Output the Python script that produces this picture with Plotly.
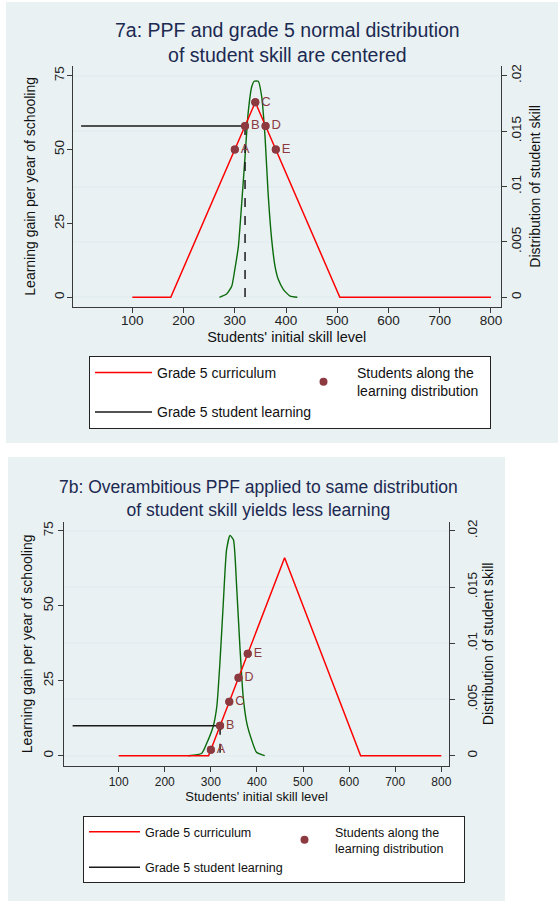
import plotly.graph_objects as go

W, H = 558, 901

# ---------------- data ----------------
skill_ticks = [100, 200, 300, 400, 500, 600, 700, 800]
gain_ticks = [0, 25, 50, 75]
dist_ticks = [0, 0.005, 0.01, 0.015, 0.02]
dist_ticktext = ["0", ".005", ".01", ".015", ".02"]
pt_labels = ["A", "B", "C", "D", "E"]

# Panel 7a
a_ppf_x = [100, 175, 340, 505, 800]
a_ppf_y = [0, 0, 66, 0, 0]
a_pts_x = [300, 320, 340, 360, 380]
a_pts_y = [50, 58, 66, 58, 50]
a_learn_x = [0, 320]
a_learn_y = [58, 58]
a_drop_x = [320, 320]
a_drop_y = [58, 0]
a_dens_x = [270, 284, 294, 300, 307, 313.5, 320, 326, 333, 338, 346, 352.5,
            359, 365, 372, 378.5, 385, 395, 408, 422]
a_dens_y = [0, 0.0003, 0.001, 0.0025, 0.0046, 0.0085, 0.0127, 0.0166, 0.019,
            0.0195, 0.0195, 0.0181, 0.0145, 0.0094, 0.0052, 0.0028, 0.0016,
            0.0007, 0.0001, 0.0]

# Panel 7b
b_ppf_x = [100, 295, 460, 625, 800]
b_ppf_y = [0, 0, 66, 0, 0]
b_pts_x = [300, 320, 340, 360, 380]
b_pts_y = [2, 10, 18, 26, 34]
b_learn_x = [0, 320]
b_learn_y = [10, 10]
b_drop_x = [320, 320]
b_drop_y = [10, 0]
b_dens_x = [251, 280, 291, 305, 313, 320, 327, 334, 341.5, 349, 356, 363,
            370, 378, 388.5, 399, 417]
b_dens_y = [0, 0.0002, 0.0011, 0.0026, 0.0044, 0.0085, 0.0136, 0.0183,
            0.0196, 0.0192, 0.015, 0.0097, 0.0053, 0.0029, 0.0014, 0.0003, 0]

# ---------------- style ----------------
RED = "#ff0000"
GREEN = "#0b6b0b"
MAROON = "#8c3a40"
BLACK = "#1a1a1a"
PANEL = "#e9f1f3"
GRID = "#e4eef0"
AX = "#3a3a3a"
TITLE = "#1c2951"
FONT = "Liberation Sans, Arial, sans-serif"


def px(x):
    return x / W


def py(y):
    return 1 - y / H


fig = go.Figure()


def add_panel(xa, ydist, ygain, ppf_x, ppf_y, pts_x, pts_y, learn_x, learn_y,
              drop_x, drop_y, dens_x, dens_y, legend, tsize):
    fig.add_trace(go.Scatter(x=dens_x, y=dens_y, xaxis=xa, yaxis=ydist,
                             mode="lines", line=dict(color=GREEN, width=1.4,
                                                     shape="spline", smoothing=0.5),
                             showlegend=False, hoverinfo="skip"))
    fig.add_trace(go.Scatter(x=ppf_x, y=ppf_y, xaxis=xa, yaxis=ygain,
                             mode="lines", line=dict(color=RED, width=1.5),
                             name="Grade 5 curriculum", legend=legend))
    fig.add_trace(go.Scatter(x=pts_x, y=pts_y, xaxis=xa, yaxis=ygain,
                             mode="markers", marker=dict(color=MAROON, size=8),
                             name="Students along the<br>learning distribution",
                             legend=legend))
    fig.add_trace(go.Scatter(x=learn_x, y=learn_y, xaxis=xa, yaxis=ygain,
                             mode="lines", line=dict(color=BLACK, width=1.5),
                             name="Grade 5 student learning", legend=legend))
    fig.add_trace(go.Scatter(x=drop_x, y=drop_y, xaxis=xa, yaxis=ygain,
                             mode="lines", line=dict(color=BLACK, width=1.5, dash="dash"),
                             showlegend=False))
    fig.add_trace(go.Scatter(x=pts_x, y=pts_y, xaxis=xa, yaxis=ygain,
                             mode="markers+text", marker=dict(color=MAROON, size=8),
                             text=pt_labels, textposition="middle right",
                             textfont=dict(color=MAROON, size=tsize, family=FONT),
                             showlegend=False, hoverinfo="skip"))


add_panel("x", "y", "y2", a_ppf_x, a_ppf_y, a_pts_x, a_pts_y, a_learn_x, a_learn_y,
          a_drop_x, a_drop_y, a_dens_x, a_dens_y, "legend", 13)
add_panel("x2", "y3", "y4", b_ppf_x, b_ppf_y, b_pts_x, b_pts_y, b_learn_x, b_learn_y,
          b_drop_x, b_drop_y, b_dens_x, b_dens_y, "legend2", 12.5)

axis_common = dict(showline=True, linecolor=AX, linewidth=1, ticks="outside",
                   ticklen=5, tickcolor=AX, zeroline=False)


def tf(size):
    return dict(family=FONT, color="#222", size=size)


def ttl(text, size, standoff):
    return dict(text=text, font=dict(size=size, family=FONT, color="#111"),
                standoff=standoff)


# panel geometry (pixels)
A = dict(l=72.7, r=500.7, t=66, b=306.7)
B = dict(l=64.3, r=449, t=521.7, b=766)

a_yr = [-3.18, 78.28]
b_yr = [-3.44, 78.05]

fig.update_layout(
    width=W, height=H,
    margin=dict(l=0, r=0, t=0, b=0, autoexpand=False),
    paper_bgcolor="white", plot_bgcolor="white",
    font=dict(family=FONT, color="#111"),
    showlegend=True,
    xaxis=dict(domain=[px(A["l"]), px(A["r"])], anchor="y", range=[-16.4, 819],
               tickvals=skill_ticks, showgrid=False, tickfont=tf(13.5),
               ticklabelstandoff=-4,
               title=ttl("Students' initial skill level", 14.5, 4), **axis_common),
    yaxis=dict(domain=[py(A["b"]), py(A["t"])], anchor="x", side="right",
               range=[a_yr[0] / 3750, a_yr[1] / 3750],
               tickvals=dist_ticks, ticktext=dist_ticktext, tickangle=-90,
               showgrid=True, gridcolor=GRID, gridwidth=1.5, tickfont=tf(13.5),
               ticklabelstandoff=-2,
               title=ttl("Distribution of student skill", 14, 7), **axis_common),
    yaxis2=dict(domain=[py(A["b"]), py(A["t"])], anchor="x", side="left",
                overlaying="y", range=a_yr, tickvals=gain_ticks, tickangle=-90,
                showgrid=False, tickfont=tf(13.5), ticklabelstandoff=-3,
                title=ttl("Learning gain per year of schooling", 14, 13), **axis_common),
    xaxis2=dict(domain=[px(B["l"]), px(B["r"])], anchor="y3", range=[-18.0, 816.7],
                tickvals=skill_ticks, showgrid=False, tickfont=tf(12),
                title=ttl("Students' initial skill level", 13, 2), **axis_common),
    yaxis3=dict(domain=[py(B["b"]), py(B["t"])], anchor="x2", side="right",
                range=[b_yr[0] / 3750, b_yr[1] / 3750],
                tickvals=dist_ticks, ticktext=dist_ticktext, tickangle=-90,
                showgrid=True, gridcolor=GRID, gridwidth=1.5, tickfont=tf(13.5),
                ticklabelstandoff=6,
                title=ttl("Distribution of student skill", 14, 0), **axis_common),
    yaxis4=dict(domain=[py(B["b"]), py(B["t"])], anchor="x2", side="left",
                overlaying="y3", range=b_yr, tickvals=gain_ticks, tickangle=-90,
                showgrid=False, tickfont=tf(13.5), ticklabelstandoff=0,
                title=ttl("Learning gain per year of schooling", 14, 4), **axis_common),
    legend=dict(x=px(89), y=py(356), xanchor="left", yanchor="top",
                xref="container", yref="container",
                orientation="h", bgcolor="white", bordercolor="#222", borderwidth=1,
                font=dict(size=14, family=FONT, color="#111"),
                itemwidth=57, entrywidth=128, traceorder="normal"),
    legend2=dict(x=px(83), y=py(816), xanchor="left", yanchor="top",
                 xref="container", yref="container",
                 orientation="h", bgcolor="white", bordercolor="#222", borderwidth=1,
                 font=dict(size=12.5, family=FONT, color="#111"),
                 itemwidth=51, entrywidth=124, traceorder="normal"),
    shapes=[
        dict(type="rect", xref="paper", yref="paper", x0=px(6), x1=px(558),
             y0=py(443), y1=py(2), fillcolor=PANEL, line=dict(width=0), layer="below"),
        dict(type="rect", xref="paper", yref="paper", x0=px(8), x1=px(505),
             y0=py(901), y1=py(457), fillcolor=PANEL, line=dict(width=0), layer="below"),
    ],
    annotations=[
        dict(text="7a: PPF and grade 5 normal distribution<br>of student skill are centered",
             xref="paper", yref="paper", x=px(287), y=py(43), xanchor="center",
             yanchor="middle", showarrow=False,
             font=dict(size=19.5, family=FONT, color=TITLE)),
        dict(text="7b: Overambitious PPF applied to same distribution<br>of student skill yields less learning",
             xref="paper", yref="paper", x=px(258), y=py(498), xanchor="center",
             yanchor="middle", showarrow=False,
             font=dict(size=17.5, family=FONT, color=TITLE)),
    ],
)

fig.write_html("out.html", post_script="document.body.style.margin='0';",
               config={"displayModeBar": False})
